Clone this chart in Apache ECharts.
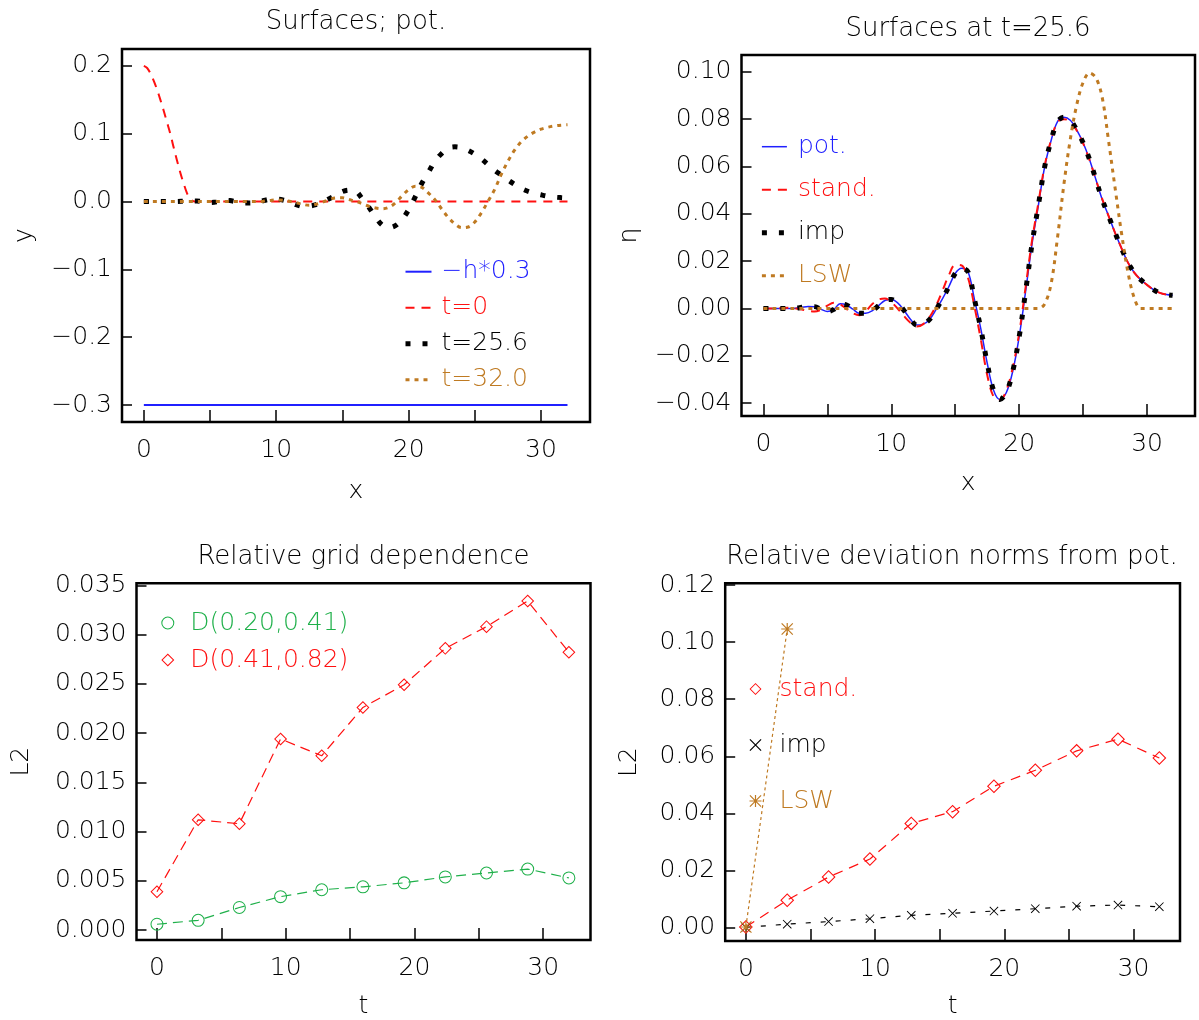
<!DOCTYPE html>
<html><head><meta charset="utf-8">
<script src="https://cdn.jsdelivr.net/npm/echarts@6/dist/echarts.min.js"></script>
<style>html,body{margin:0;padding:0;background:#fff}#c{width:1199px;height:1020px}</style>
</head><body><div id="c"></div>
<script>
// ---------- data ----------
const xGrid = [0,0.5,1,1.5,2,2.5,3,3.5,4,4.5,
  5,5.5,6,6.5,7,7.5,8,8.5,9,9.5,
  10,10.5,11,11.5,12,12.5,13,13.5,14,14.5,
  15,15.5,16,16.5,17,17.5,18,18.5,19,19.5,
  20,20.5,21,21.5,22,22.5,23,23.5,24,24.5,
  25,25.5,26,26.5,27,27.5,28,28.5,29,29.5,
  30,30.5,31,31.5,32];
// pot. surface at t=25.6 (also "t=25.6" in the first panel)
const potEta = [0,0,0,0,0,0.0001,0.0005,0.0009,0.0008,-0.0003,
  -0.0013,-0.0004,0.0020,0.0015,-0.0003,-0.0020,-0.0020,-0.0010,0.0012,0.0034,
  0.0038,0.0024,-0.0008,-0.0045,-0.0070,-0.0066,-0.0046,-0.0005,0.0041,0.0092,
  0.0148,0.0170,0.0155,0.0040,-0.0085,-0.0230,-0.0345,-0.0384,-0.0355,-0.0265,
  -0.0120,0.0070,0.0270,0.0435,0.0600,0.0710,0.0790,0.0808,0.0795,0.0755,
  0.0700,0.0630,0.0545,0.0460,0.0390,0.0320,0.0255,0.0195,0.0152,0.0122,
  0.0100,0.0080,0.0066,0.0059,0.0056];
const standEta = [0,0,0,0.0002,0.0003,0,-0.0004,-0.0010,-0.0013,-0.0005,
  0.0012,0.0024,0.0018,-0.0002,-0.0020,-0.0028,-0.0012,0.0018,0.0038,0.0042,
  0.0027,0.0000,-0.0032,-0.0060,-0.0076,-0.0066,-0.0036,0.0012,0.0075,0.0140,
  0.0185,0.0182,0.0130,0.0010,-0.0130,-0.0280,-0.0372,-0.0386,-0.0345,-0.0250,
  -0.0105,0.0088,0.0285,0.0445,0.0605,0.0712,0.0788,0.0800,0.0790,0.0752,
  0.0698,0.0628,0.0545,0.0462,0.0390,0.0320,0.0255,0.0195,0.0152,0.0122,
  0.0100,0.0080,0.0066,0.0059,0.0056];
// imp coincides with pot. within the line width
const impEta = potEta;
const lswEta = [0,0,0,0,0,0,0,0,0,0,
  0,0,0,0,0,0,0,0,0,0,
  0,0,0,0,0,0,0,0,0,0,
  0,0,0,0,0,0,0,0,0,0,
  0,0,0,0,0.0020,0.0105,0.0300,0.0525,0.0715,0.0860,
  0.0955,0.0995,0.0975,0.0890,0.0705,0.0510,0.0320,0.0155,0.0045,0,
  0,0,0,0,0];
const eta32 = [0,0,0,0,0,0,0,0,0,0,
  0,0,0,0,0,0,0,0,0.0005,0.0015,
  0.0025,0.0020,0.0005,-0.0015,-0.0040,-0.0055,-0.0040,-0.0010,0.0030,0.0055,
  0.0055,0.0030,0.0005,-0.0030,-0.0068,-0.0095,-0.0105,-0.0085,-0.0020,0.0085,
  0.0175,0.0228,0.0210,0.0125,0.0025,-0.0110,-0.0235,-0.0330,-0.0384,-0.0375,
  -0.0300,-0.0165,0.0005,0.0180,0.0400,0.0595,0.0758,0.0880,0.0965,0.1025,
  0.1068,0.1095,0.1115,0.1127,0.1132];
const t0X = [0,0.25,0.5,0.75,1,1.25,1.5,1.75,2,2.25,2.5,2.75,3,3.25,3.5,3.75,4,32];
const t0Y = [0.200,0.197,0.189,0.178,0.165,0.150,0.134,0.117,0.100,0.080,0.061,0.043,0.027,0.013,0.004,0.0005,0,0];
const hX = [0, 32];
const hY = [-0.3, -0.3];

const tGrid = [0,3.2,6.4,9.6,12.8,16.0,19.2,22.4,25.6,28.8,32.0];
const dFine = [0.0006,0.0010,0.0023,0.0034,0.0041,0.0044,0.0048,0.0054,0.0058,0.0062,0.0053];
const dCoarse = [0.0039,0.0112,0.0108,0.0194,0.0177,0.0226,0.0249,0.0286,0.0308,0.0334,0.0282];
const l2Stand = [0.0002,0.0096,0.0177,0.0240,0.0365,0.0406,0.0495,0.0551,0.0619,0.0660,0.0594];
const l2Imp = [0.0001,0.0012,0.0021,0.0031,0.0043,0.0050,0.0058,0.0066,0.0075,0.0079,0.0073];
const lswT = [0, 3.2];
const l2Lsw = [0.0002, 0.1046];

const xTicks = [0,5,10,15,20,25,30];
const xLabels = [0,10,20,30];
const yTicksA = [-0.3,-0.2,-0.1,0,0.1,0.2];
const yTicksB = [-0.04,-0.02,0,0.02,0.04,0.06,0.08,0.10];
const yTicksC = [0,0.005,0.010,0.015,0.020,0.025,0.030,0.035];
const yTicksD = [0,0.02,0.04,0.06,0.08,0.10,0.12];

// ---------- style ----------
const FONT = '"DejaVu Sans", "Liberation Sans", sans-serif';
const BLUE = '#2020ff', RED = '#ff1010', BLACK = '#000000', BROWN = '#bf7a22', GREEN = '#1fb04a';
const RING = 'path://M50,0 A50,50 0 1,1 50,100 A50,50 0 1,1 50,0 Z M50,8 A42,42 0 1,0 50,92 A42,42 0 1,0 50,8 Z';
const DIAM = 'path://M50,0 L100,50 L50,100 L0,50 Z M50,11 L11,50 L50,89 L89,50 Z';
const CROSS = 'path://M7,0 L100,93 L93,100 L0,7 Z M93,0 L100,7 L7,100 L0,93 Z';
const STAR = 'path://M45,0 L55,0 L55,100 L45,100 Z M0,45 L100,45 L100,55 L0,55 Z M7,0 L100,93 L93,100 L0,7 Z M93,0 L100,7 L7,100 L0,93 Z';

const pairs = (xs, ys) => xs.map((x, i) => [x, ys[i]]);
const fmt = d => v => (v < -1e-12 ? '\u2212' : '') + Math.abs(v).toFixed(d);
const txt = (size) => ({fontSize: size, fontFamily: FONT, color: '#000', fontWeight: 200});
const FS = 25;

function gridBox(left, top, width, height) {
  return {left, top, width, height, show: true, borderColor: '#000', borderWidth: 2.5, backgroundColor: 'transparent', containLabel: false};
}
function xAx(i, min, max, name, gap) {
  return {gridIndex: i, type: 'value', min, max, name, nameLocation: 'middle', nameGap: gap,
    nameTextStyle: txt(FS), axisLine: {show: false, onZero: false}, splitLine: {show: false},
    axisTick: {show: true, inside: true, length: 12, lineStyle: {color: '#000', width: 1.5}, customValues: xTicks},
    axisLabel: {margin: 16, ...txt(FS), customValues: xLabels, formatter: v => String(v)}};
}
function yAx(i, min, max, name, gap, ticks, dec) {
  return {gridIndex: i, type: 'value', min, max, name, nameLocation: 'middle', nameGap: gap, nameRotate: 90,
    nameTextStyle: txt(FS), axisLine: {show: false, onZero: false}, splitLine: {show: false},
    axisTick: {show: true, inside: true, length: 10, lineStyle: {color: '#000', width: 1.5}, customValues: ticks},
    axisLabel: {margin: 10, ...txt(FS), customValues: ticks, formatter: fmt(dec)}};
}
function curve(name, i, xs, ys, color, width, type) {
  return {name, type: 'line', xAxisIndex: i, yAxisIndex: i, data: pairs(xs, ys), symbol: 'none', smooth: 0.35,
    lineStyle: {color, width, type}, itemStyle: {color}, silent: true};
}
function marked(name, i, xs, ys, color, dash, sym, size) {
  return {name, type: 'line', xAxisIndex: i, yAxisIndex: i, data: pairs(xs, ys), symbol: sym, symbolSize: size,
    showSymbol: true, lineStyle: {color, width: 1.2, type: dash}, itemStyle: {color, borderWidth: 0}, silent: true};
}
const titleAt = (text, x, top) => ({text, left: x, top, textAlign: 'center', padding: 0, textStyle: txt(26)});
const lineItem = (name, color, width, type) => ({name, textStyle: {color}, lineStyle: {color, width, type}, itemStyle: {opacity: 0}});

const option = {
  animation: false,
  backgroundColor: '#fff',
  title: [
    titleAt('Surfaces; pot.', 356, 9),
    titleAt('Surfaces at t=25.6', 968, 16),
    titleAt('Relative grid dependence', 363.5, 544),
    titleAt('Relative deviation norms from pot.', 952, 544)
  ],
  grid: [
    gridBox(122, 49, 468, 373),
    gridBox(741.5, 55, 453.5, 361),
    gridBox(136.5, 583.3, 454, 361.7),
    gridBox(725.2, 583.3, 454.8, 362)
  ],
  xAxis: [
    xAx(0, -1.65, 33.7, 'x', 57),
    xAx(1, -1.71, 33.75, 'x', 55),
    xAx(2, -1.59, 33.68, 't', 54),
    xAx(3, -1.6, 33.6, 't', 53)
  ],
  yAxis: [
    yAx(0, -0.325, 0.225, 'y', 85, yTicksA, 1),
    yAx(1, -0.0454, 0.1071, '\u03b7', 100, yTicksB, 2),
    yAx(2, -0.001, 0.0352, 'L2', 103, yTicksC, 3),
    yAx(3, -0.0047, 0.1206, 'L2', 83, yTicksD, 2)
  ],
  legend: [
    {orient: 'vertical', left: 403, top: 253.7, padding: 0, itemGap: 0, itemWidth: 26, itemHeight: 14, selectedMode: false,
     itemStyle: {opacity: 0}, textStyle: {...txt(FS), lineHeight: 36, padding: [0, 0, 0, 5]},
     data: [lineItem('\u2212h*0.3', BLUE, 2, 'solid'), lineItem('t=0', RED, 2, [9, 7]),
            lineItem('t=25.6', BLACK, 5, [5, 12]), lineItem('t=32.0', BROWN, 3, [4, 5])]},
    {orient: 'vertical', left: 759.4, top: 125.2, padding: 0, itemGap: 0, itemWidth: 25, itemHeight: 14, selectedMode: false,
     itemStyle: {opacity: 0}, textStyle: {...txt(FS), lineHeight: 43, padding: [0, 0, 0, 6]},
     data: [lineItem('pot.', BLUE, 1.5, 'solid'), lineItem('stand.', RED, 2, [9, 7]),
            lineItem('imp', BLACK, 5, [5, 12]), lineItem('LSW', BROWN, 3, [4, 5])]},
    {orient: 'vertical', left: 161.3, top: 604.5, padding: 0, itemGap: 0, itemWidth: 13, itemHeight: 13, selectedMode: false,
     textStyle: {...txt(FS), lineHeight: 37, padding: [0, 0, 0, 11]},
     data: [{name: 'D(0.20,0.41)', icon: RING, textStyle: {color: GREEN}},
            {name: 'D(0.41,0.82)', icon: DIAM, textStyle: {color: RED}}]},
    {orient: 'vertical', left: 749.5, top: 661, padding: 0, itemGap: 0, itemWidth: 12, itemHeight: 12, selectedMode: false,
     textStyle: {...txt(FS), lineHeight: 56, padding: [0, 0, 0, 13]},
     formatter: n => n.replace(' L2', ''),
     data: [{name: 'stand. L2', icon: DIAM, textStyle: {color: RED}},
            {name: 'imp L2', icon: CROSS, textStyle: {color: BLACK}},
            {name: 'LSW L2', icon: STAR, textStyle: {color: BROWN}}]}
  ],
  series: [
    curve('\u2212h*0.3', 0, hX, hY, BLUE, 2, 'solid'),
    curve('t=0', 0, t0X, t0Y, RED, 2, [9, 7]),
    curve('t=25.6', 0, xGrid, potEta, BLACK, 5, [5, 12]),
    curve('t=32.0', 0, xGrid, eta32, BROWN, 3, [4, 5]),

    curve('pot.', 1, xGrid, potEta, BLUE, 1.5, 'solid'),
    curve('stand.', 1, xGrid, standEta, RED, 2, [9, 7]),
    curve('imp', 1, xGrid, impEta, BLACK, 5, [5, 12]),
    curve('LSW', 1, xGrid, lswEta, BROWN, 3, [4, 5]),

    marked('D(0.20,0.41)', 2, tGrid, dFine, GREEN, [10, 6], RING, 13),
    marked('D(0.41,0.82)', 2, tGrid, dCoarse, RED, [10, 6], DIAM, 13),

    marked('stand. L2', 3, tGrid, l2Stand, RED, [10, 7], DIAM, 14),
    marked('imp L2', 3, tGrid, l2Imp, BLACK, [5, 10], CROSS, 9),
    marked('LSW L2', 3, lswT, l2Lsw, BROWN, [3, 3], STAR, 12)
  ]
};
const chart = echarts.init(document.getElementById('c'), null, {renderer: 'canvas'});
chart.setOption(option);
</script></body></html>
